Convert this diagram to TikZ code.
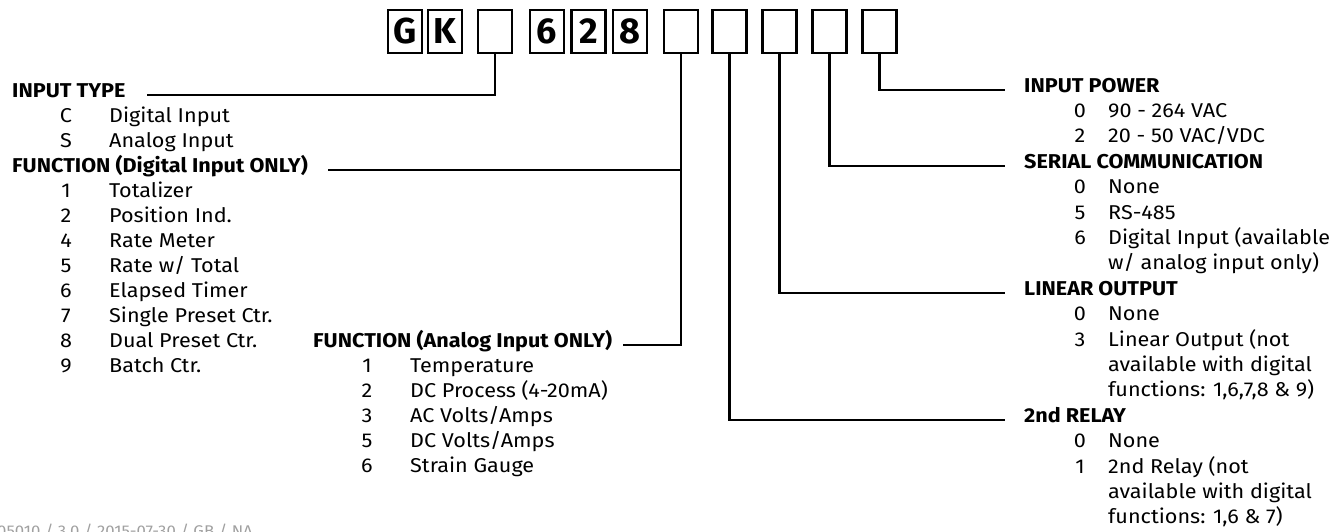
\documentclass[tikz,border=0pt]{standalone}
\usepackage{fontspec}
\setmainfont{Fira Sans}[FakeStretch=1.08]
\newfontfamily\boxfont{Fira Sans}
\definecolor{footgray}{HTML}{A0A0A0}
\begin{document}
\begin{tikzpicture}[x=1pt,y=-1pt,
  txt/.style={inner sep=0pt,font=\fontsize{20}{20}\selectfont},
  hdr/.style={txt,anchor=mid west,font=\bfseries\fontsize{20}{20}\selectfont},
  num/.style={txt,anchor=mid},
  item/.style={txt,anchor=mid west},
  codebox/.style={draw,line width=2.6pt,minimum width=34pt,minimum height=43pt,inner sep=0pt,font=\boxfont\bfseries\fontsize{36}{36}\selectfont},
  conn/.style={line width=2.6pt}]
\useasboundingbox (0,0) rectangle (1343,531);
% code boxes
\node[codebox] (bG) at (405,31.5) {G};
\node[codebox] (bK) at (445,31.5) {K};
\node[codebox] (b3) at (495,31.5) {};
\node[codebox] (b6) at (547,31.5) {6};
\node[codebox] (b2) at (588.5,31.5) {2};
\node[codebox] (b8) at (630,31.5) {8};
\node[codebox] (b7) at (681,31.5) {};
\node[codebox] (b8a) at (729.5,31.5) {};
\node[codebox] (b9) at (779.5,31.5) {};
\node[codebox] (b10) at (829.5,31.5) {};
\node[codebox] (b11) at (879.5,31.5) {};
% left column
\node[hdr] (hIT) at (12,95) {INPUT TYPE};
\node[num] at (66,120) {C}; \node[item] at (109,120) {Digital Input};
\node[num] at (66,145) {S}; \node[item] at (109,145) {Analog Input};
\node[hdr] (hFD) at (12,170) {FUNCTION (Digital Input ONLY)};
\node[num] at (66,195) {1}; \node[item] at (109,195) {Totalizer};
\node[num] at (66,220) {2}; \node[item] at (109,220) {Position Ind.};
\node[num] at (66,245) {4}; \node[item] at (109,245) {Rate Meter};
\node[num] at (66,270) {5}; \node[item] at (109,270) {Rate w/ Total};
\node[num] at (66,295) {6}; \node[item] at (109,295) {Elapsed Timer};
\node[num] at (66,320) {7}; \node[item] at (109,320) {Single Preset Ctr.};
\node[num] at (66,345) {8}; \node[item] at (109,345) {Dual Preset Ctr.};
\node[num] at (66,370) {9}; \node[item] at (109,370) {Batch Ctr.};
% analog column
\node[hdr] (hFA) at (313,345) {FUNCTION (Analog Input ONLY)};
\node[num] at (367,370) {1}; \node[item] at (410,370) {Temperature};
\node[num] at (367,395) {2}; \node[item] at (410,395) {DC Process (4-20mA)};
\node[num] at (367,420) {3}; \node[item] at (410,420) {AC Volts/Amps};
\node[num] at (367,445) {5}; \node[item] at (410,445) {DC Volts/Amps};
\node[num] at (367,470) {6}; \node[item] at (410,470) {Strain Gauge};
% right column
\node[hdr] (hIP) at (1024,90) {INPUT POWER};
\node[num] at (1080,115) {0}; \node[item] at (1108,115) {90 - 264 VAC};
\node[num] at (1080,140) {2}; \node[item] at (1108,140) {20 - 50 VAC/VDC};
\node[hdr] (hSC) at (1024,166) {SERIAL COMMUNICATION};
\node[num] at (1080,191) {0}; \node[item] at (1108,191) {None};
\node[num] at (1080,217) {5}; \node[item] at (1108,217) {RS-485};
\node[num] at (1080,242) {6}; \node[item] at (1108,242) {Digital Input (available};
\node[item] at (1108,267) {w/ analog input only)};
\node[hdr] (hLO) at (1024,293) {LINEAR OUTPUT};
\node[num] at (1080,318) {0}; \node[item] at (1108,318) {None};
\node[num] at (1080,344) {3}; \node[item] at (1108,344) {Linear Output (not};
\node[item] at (1108,369) {available with digital};
\node[item] at (1108,394) {functions: 1,6,7,8 \& 9)};
\node[hdr] (hRL) at (1024,420) {2nd RELAY};
\node[num] at (1080,445) {0}; \node[item] at (1108,445) {None};
\node[num] at (1080,471) {1}; \node[item] at (1108,471) {2nd Relay (not};
\node[item] at (1108,496) {available with digital};
\node[item] at (1108,521) {functions: 1,6 \& 7)};
% connector ends
\coordinate (eIT) at (147,95);
\coordinate (eFD) at (328,170);
\coordinate (eFA) at (623,345);
\coordinate (eIP) at (1005,90);
\coordinate (eSC) at (1005,166);
\coordinate (eLO) at (1005,293);
\coordinate (eRL) at (1005,420);
% connectors
\draw[conn] (b3.south) |- (eIT);
\draw[conn] (b7.south) |- (eFA);
\draw[conn] (eFD) -- (eFD -| b7.south);
\draw[conn] (b8a.south) |- (eRL);
\draw[conn] (b9.south) |- (eLO);
\draw[conn] (b10.south) |- (eSC);
\draw[conn] (b11.south) |- (eIP);
% footer (cut by the lower page edge, as in the reference)
\begin{scope}
\clip (0,0) rectangle (1343,531);
\node[inner sep=0pt,anchor=base west,text=footgray,font=\fontsize{15.5}{15.5}\selectfont] (foot) at (-3,536) {05010 / 3.0 / 2015-07-30 / GB / NA};
\end{scope}
\end{tikzpicture}
\end{document}
